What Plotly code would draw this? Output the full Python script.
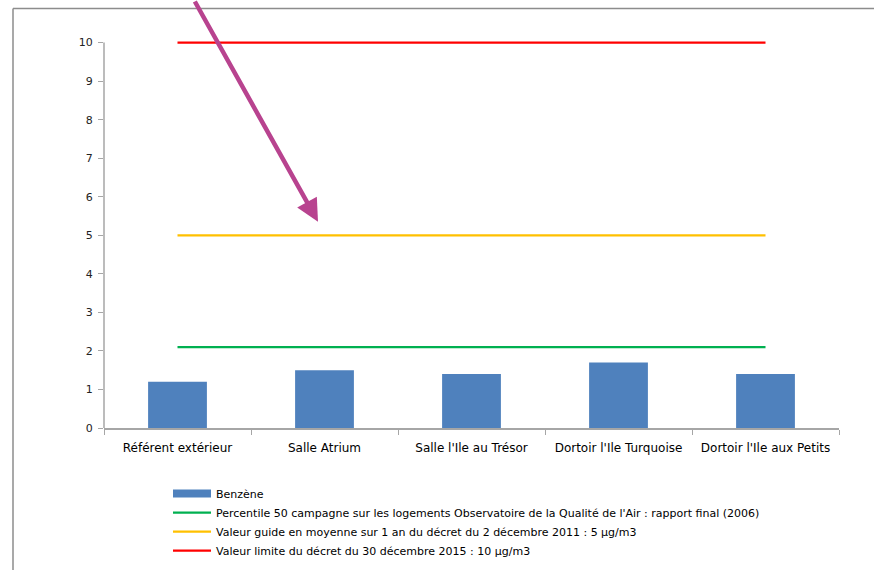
import plotly.graph_objects as go

categories = ["Référent extérieur", "Salle Atrium", "Salle l'Ile au Trésor",
              "Dortoir l'Ile Turquoise", "Dortoir l'Ile aux Petits"]
benzene = [1.2, 1.5, 1.4, 1.7, 1.4]
percentile50 = [2.1, 2.1, 2.1, 2.1, 2.1]
valeur_guide = [5, 5, 5, 5, 5]
valeur_limite = [10, 10, 10, 10, 10]
y_ticks = list(range(0, 11))

names = [
    "Benzène",
    "Percentile 50 campagne sur les logements Observatoire de la Qualité de l'Air : rapport final (2006)",
    "Valeur guide en moyenne sur 1 an du décret du 2 décembre 2011 : 5 µg/m3",
    "Valeur limite du décret du 30 décembre 2015 : 10 µg/m3",
]

W, H = 874, 570
YMAX = 10.3
L, R, B = 104, 35, 142
T = 43 - (YMAX - 10) * 38.5
pw, ph = W - L - R, H - T - B

FONT = "DejaVu Sans, Verdana, sans-serif"
fig = go.Figure()
fig.add_trace(go.Bar(x=categories, y=benzene, marker=dict(color="#4f81bd", line=dict(width=0)),
                     showlegend=False, name=names[0]))
# legend proxy for the bar series
fig.add_trace(go.Scatter(x=[None], y=[None], mode="lines", line=dict(color="#4f81bd", width=8),
                         name=names[0]))
for vals, nm, col in [(percentile50, names[1], "#00b050"),
                      (valeur_guide, names[2], "#ffc000"),
                      (valeur_limite, names[3], "#ff0000")]:
    fig.add_trace(go.Scatter(x=categories, y=vals, mode="lines", name=nm,
                             line=dict(color=col, width=2.2)))

def px(x):
    return (x - L) / pw

def py(y):
    return (T + ph - y) / ph

# outer frame (top and left border)
fig.add_shape(type="line", xref="paper", yref="paper", x0=px(13), x1=px(880), y0=py(9), y1=py(9),
              line=dict(color="#8c8c8c", width=1.5))
fig.add_shape(type="line", xref="paper", yref="paper", x0=px(13), x1=px(13), y0=py(9), y1=py(575),
              line=dict(color="#8c8c8c", width=1.5))
# value axis line from 0 to 10
fig.add_shape(type="line", xref="paper", yref="y", x0=0, x1=0, y0=-0.1, y1=10,
              line=dict(color="#a6a6a6", width=1.5))

# arrow
fig.add_annotation(x=px(318), y=py(222), xref="paper", yref="paper", ax=194 - 318, ay=-4 - 222,
                   axref="pixel", ayref="pixel", text="", showarrow=True, arrowhead=2,
                   arrowsize=1, arrowwidth=4.5, arrowcolor="#b8438f")

fig.update_layout(
    width=W, height=H, margin=dict(l=L, r=R, t=T, b=B, autoexpand=False),
    paper_bgcolor="white", plot_bgcolor="white",
    bargap=0.6,
    font=dict(family=FONT, color="#000000"),
    xaxis=dict(showgrid=False, showline=True, linecolor="#a6a6a6", linewidth=1.5,
               ticks="outside", tickson="boundaries", ticklen=5, tickcolor="#a6a6a6",
               tickfont=dict(size=12, family=FONT), zeroline=False, automargin=False,
               ticklabelstandoff=8),
    yaxis=dict(range=[0, YMAX], tickvals=y_ticks, showgrid=False, showline=False,
               ticks="outside", ticklen=5, tickcolor="#a6a6a6",
               tickfont=dict(size=11, family=FONT, color="#222222"), zeroline=False,
               automargin=False, ticklabelstandoff=3),
    legend=dict(x=px(168), y=py(479), xanchor="left", yanchor="top",
                font=dict(size=11, family=FONT), itemwidth=38, tracegroupgap=0,
                bgcolor="rgba(0,0,0,0)"),
    showlegend=True,
)

fig.write_html("out.html")
